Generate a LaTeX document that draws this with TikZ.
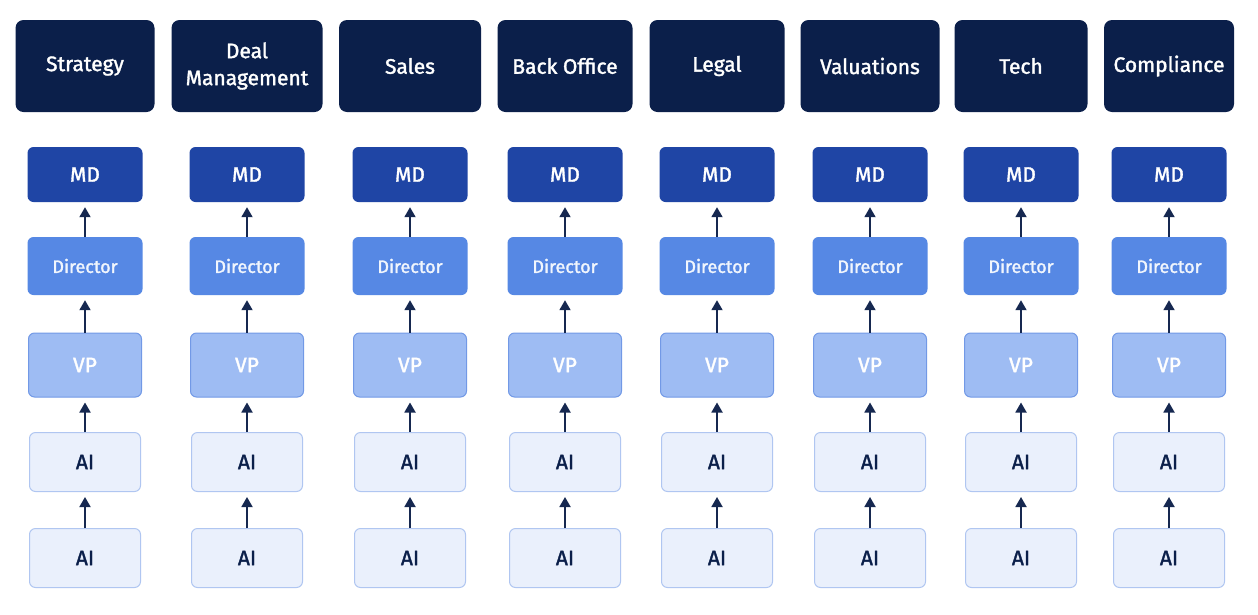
\documentclass[tikz,border=0pt]{standalone}
\usepackage{fontspec}
\setmainfont{Fira Sans}[UprightFeatures={FakeBold=1.6}]
\usetikzlibrary{arrows.meta}

\definecolor{deptnavy}{RGB}{11,31,74}
\definecolor{mdblue}{RGB}{31,69,165}
\definecolor{dirblue}{RGB}{86,136,228}
\definecolor{vpfill}{RGB}{158,188,243}
\definecolor{vpline}{RGB}{114,153,230}
\definecolor{aifill}{RGB}{234,240,252}
\definecolor{ailine}{RGB}{176,198,241}
\definecolor{arrownavy}{RGB}{22,40,80}

\tikzset{
  dept/.style={fill=deptnavy, rounded corners=8pt, minimum width=#1pt,
    minimum height=92pt, inner sep=0pt, text=white, align=center,
    font=\fontsize{21}{27}\selectfont},
  rank/.style={rounded corners=6pt, minimum width=115pt, inner sep=0pt},
  mdbox/.style={rank, fill=mdblue, minimum height=55pt, text=white,
    font=\fontsize{21}{24}\selectfont},
  dirbox/.style={rank, fill=dirblue, minimum height=58pt, text=white!92!dirblue,
    font=\fontsize{18}{21}\selectfont},
  vpbox/.style={rank, fill=vpfill, draw=vpline, line width=1pt,
    minimum width=113pt, minimum height=64pt, text=white,
    font=\fontsize{21}{24}\selectfont},
  aibox/.style={rank, fill=aifill, draw=ailine, line width=1pt,
    minimum width=111pt, minimum height=59pt, text=deptnavy,
    font=\fontsize{21}{24}\selectfont},
  link/.style={-{Triangle[length=10pt,width=11pt]}, draw=arrownavy,
    line width=1.8pt, shorten >=5pt}
}

\begin{document}
\begin{tikzpicture}[x=1pt, y=-1pt]
  \useasboundingbox[fill=white] (0,0) rectangle (1258,614);

  % One column per department: header, then the reporting chain
  \foreach \cx/\hw/\name [count=\i] in {
      85/139/Strategy, 247/151/{Deal\\Management}, 410/142/Sales,
      565/135/Back Office, 717/135/Legal, 870/139/Valuations,
      1021/133/Tech, 1169/130/Compliance}
  {
    \node[dept=\hw] (head\i) at (\cx,66) {\name};

    % Ranks, top to bottom
    \node[mdbox]  (md\i)    at (\cx,174.5) {MD};
    \node[dirbox] (dir\i)   at (\cx,266)   {Director};
    \node[vpbox]  (vp\i)    at (\cx,365)   {VP};
    \node[aibox]  (aitop\i) at (\cx,462)   {AI};
    \node[aibox]  (aibot\i) at (\cx,558)   {AI};

    % Reporting lines
    \draw[link] (dir\i) -- (md\i);
    \draw[link] (vp\i) -- (dir\i);
    \draw[link] (aitop\i) -- (vp\i);
    \draw[link] (aibot\i) -- (aitop\i);
  }
\end{tikzpicture}
\end{document}
